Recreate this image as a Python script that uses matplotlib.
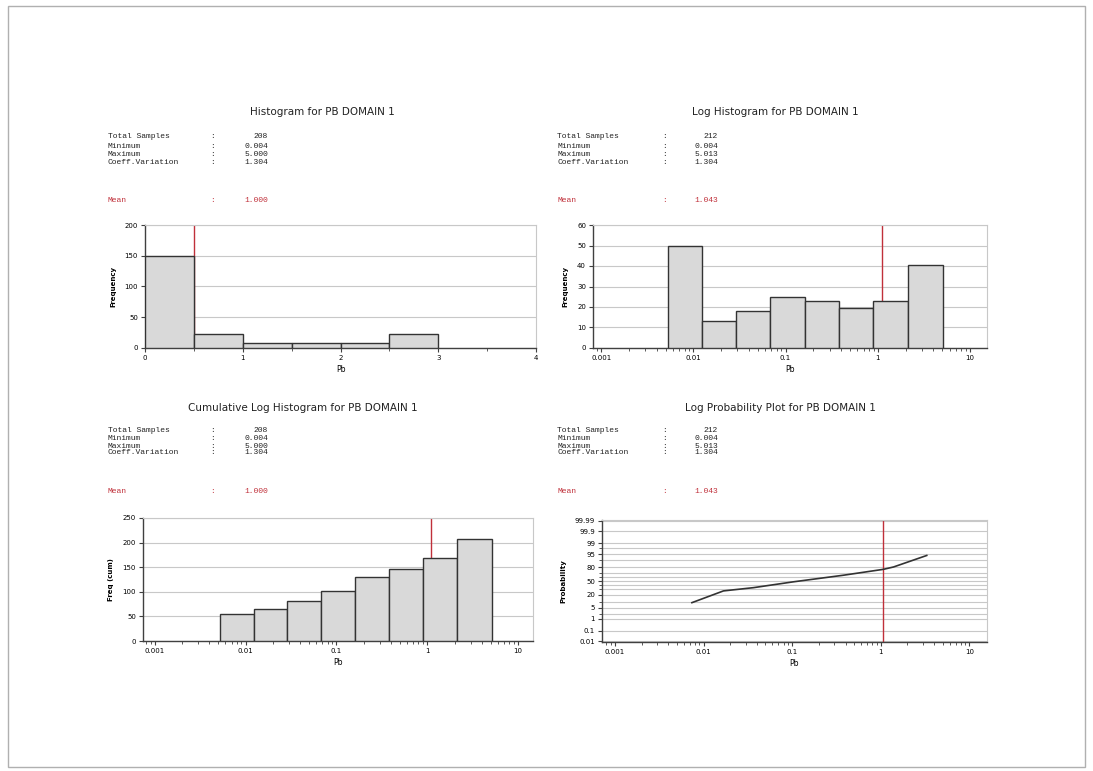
import numpy as np
import matplotlib
matplotlib.use("Agg")
import matplotlib.pyplot as plt
from matplotlib.patches import Rectangle
from matplotlib.ticker import FixedLocator, NullFormatter, LogLocator
from statistics import NormalDist

W, H = 1093, 771

# --- data ---
titles = ["Histogram for PB DOMAIN 1", "Log Histogram for PB DOMAIN 1",
          "Cumulative Log Histogram for PB DOMAIN 1", "Log Probability Plot for PB DOMAIN 1"]
stat_names = ["Total Samples", "Minimum", "Maximum", "Coeff.Variation"]
stat_values = [["208", "0.004", "5.000", "1.304"],
               ["212", "0.004", "5.013", "1.304"],
               ["208", "0.004", "5.000", "1.304"],
               ["212", "0.004", "5.013", "1.304"]]
mean_values = ["1.000", "1.043", "1.000", "1.043"]

# linear histogram (bin edges, counts)
hist_edges = [0, 0.5, 1.0, 1.5, 2.0, 2.5, 3.0]
hist_counts = [150, 22, 8, 8, 8, 22]
hist_mean = 0.5

# log histogram (log10 bin edges, counts)
log_edges = [-2.28, -1.91, -1.54, -1.17, -0.79, -0.42, -0.05, 0.33, 0.71]
log_counts = [50, 13, 18, 25, 23, 19.5, 23, 40.5]
cum_counts = [54, 65, 81.5, 102, 130, 147, 168.5, 206.5]
log_mean = 1.1

# log probability plot
prob_x = [0.0074, 0.0168, 0.0366, 0.1035, 0.38, 1.07, 1.39, 3.3]
prob_pct = [9, 27, 34, 48, 64, 76.5, 80.7, 94.3]
prob_mean = 1.07

fig = plt.figure(figsize=(W / 100, H / 100), dpi=100)
fig.patch.set_facecolor("white")

# page frame
fig.patches.append(Rectangle((8 / W, 4 / H), 1 - 16 / W, 1 - 10 / H, transform=fig.transFigure,
                             fill=False, edgecolor="#b0b0b0", linewidth=1))


def fx(x):
    return x / W


def fy(y):
    return 1 - y / H


def add_ax(left, top, right, bottom):
    return fig.add_axes([fx(left), fy(bottom), (right - left) / W, (bottom - top) / H])


def header(i, tx, ty, lx, cx, vx, rows, mean_y):
    fig.text(fx(tx), fy(ty), titles[i], ha="center", va="center", fontsize=7.5, color="#222222")
    for name, val, y in zip(stat_names, stat_values[i], rows):
        fig.text(fx(lx), fy(y), name, ha="left", va="center", fontsize=5.8,
                 family="Liberation Mono", color="#222222")
        fig.text(fx(cx), fy(y), ":", ha="left", va="center", fontsize=5.8,
                 family="Liberation Mono", color="#222222")
        fig.text(fx(vx), fy(y), val, ha="right", va="center", fontsize=5.8,
                 family="Liberation Mono", color="#222222")
    for txt, x, ha in [("Mean", lx, "left"), (":", cx, "left"), (mean_values[i], vx, "right")]:
        fig.text(fx(x), fy(mean_y), txt, ha=ha, va="center", fontsize=5.8,
                 family="Liberation Mono", color="#c0303a")


def style(ax, ylabel):
    for s in ["top", "right"]:
        ax.spines[s].set_color("#c8c8c8")
        ax.spines[s].set_linewidth(0.8)
    for s in ["left", "bottom"]:
        ax.spines[s].set_color("#404040")
        ax.spines[s].set_linewidth(1.0)
    ax.grid(axis="y", color="#c8c8c8", linewidth=0.8)
    ax.set_axisbelow(True)
    ax.tick_params(labelsize=5, length=3, width=0.8, color="#404040", pad=2)
    ax.tick_params(which="minor", length=2, width=0.6, color="#404040")
    ax.set_ylabel(ylabel, fontsize=5, fontweight="bold", labelpad=6)
    ax.set_xlabel("Pb", fontsize=5.5, labelpad=3)


bar_kw = dict(color="#d9d9d9", edgecolor="#333333", linewidth=1.0, align="edge", zorder=3)
red = "#c0303a"

# --- panel 1: histogram ---
header(0, 322, 112, 108, 210, 268, [137, 146, 155, 163], 200)
ax1 = add_ax(145, 225, 536, 348)
ax1.bar(hist_edges[:-1], hist_counts, width=np.diff(hist_edges), **bar_kw)
ax1.axvline(hist_mean, color=red, linewidth=1, zorder=2)
ax1.set_xlim(0, 4)
ax1.set_ylim(0, 200)
ax1.set_yticks([0, 50, 100, 150, 200])
ax1.set_xticks([0, 1, 2, 3, 4])
ax1.xaxis.set_minor_locator(FixedLocator([0.5, 1.5, 2.5, 3.5]))
style(ax1, "Frequency")

# --- panel 2: log histogram ---
header(1, 775, 112, 557, 662, 718, [137, 146, 155, 163], 200)
ax2 = add_ax(593, 225, 987, 348)
e2 = 10 ** np.array(log_edges)
ax2.bar(e2[:-1], log_counts, width=np.diff(e2), **bar_kw)
ax2.axvline(log_mean, color=red, linewidth=1, zorder=2)
ax2.set_xscale("log")
ax2.set_xlim(10 ** -3.09, 10 ** 1.185)
ax2.set_ylim(0, 60)
ax2.set_yticks(range(0, 61, 10))
style(ax2, "Frequency")

# --- panel 3: cumulative log histogram ---
header(2, 303, 408, 108, 210, 268, [430, 438, 446, 453], 492)
ax3 = add_ax(143, 518, 533, 641)
ax3.bar(e2[:-1], cum_counts, width=np.diff(e2), **bar_kw)
ax3.axvline(log_mean, color=red, linewidth=1, zorder=2)
ax3.set_xscale("log")
ax3.set_xlim(10 ** -3.13, 10 ** 1.165)
ax3.set_ylim(0, 250)
ax3.set_yticks(range(0, 251, 50))
style(ax3, "Freq (cum)")

# --- panel 4: log probability plot ---
header(3, 780, 408, 557, 662, 718, [430, 438, 446, 453], 492)
ax4 = add_ax(602, 520, 987, 642)
nd = NormalDist()
grid_pct = [0.01, 0.1, 1, 2, 5, 10, 20, 30, 40, 50, 60, 70, 80, 90, 95, 98, 99, 99.9, 99.99]
label_pct = [0.01, 0.1, 1, 5, 20, 50, 80, 95, 99, 99.9, 99.99]
ax4.plot(prob_x, [nd.inv_cdf(p / 100) for p in prob_pct], color="#333333", linewidth=1.2, zorder=3)
ax4.axvline(prob_mean, color=red, linewidth=1, zorder=2)
ax4.set_xscale("log")
ax4.set_xlim(10 ** -3.145, 10 ** 1.198)
ax4.set_ylim(nd.inv_cdf(0.00008), nd.inv_cdf(0.99992))
ax4.set_yticks([nd.inv_cdf(p / 100) for p in label_pct])
ax4.set_yticklabels([f"{p:g}" for p in label_pct])
ax4.yaxis.set_minor_locator(FixedLocator([nd.inv_cdf(p / 100) for p in grid_pct]))
ax4.yaxis.set_minor_formatter(NullFormatter())
style(ax4, "Probability")
ax4.grid(axis="y", which="both", color="#c8c8c8", linewidth=0.8)

for ax in (ax2, ax3, ax4):
    ax.xaxis.set_major_locator(FixedLocator([0.001, 0.01, 0.1, 1, 10]))
    ax.set_xticklabels(["0.001", "0.01", "0.1", "1", "10"])
    ax.xaxis.set_minor_locator(LogLocator(base=10, subs=np.arange(2, 10), numticks=20))
    ax.xaxis.set_minor_formatter(NullFormatter())

fig.savefig("out.png", dpi=100, facecolor="white")
